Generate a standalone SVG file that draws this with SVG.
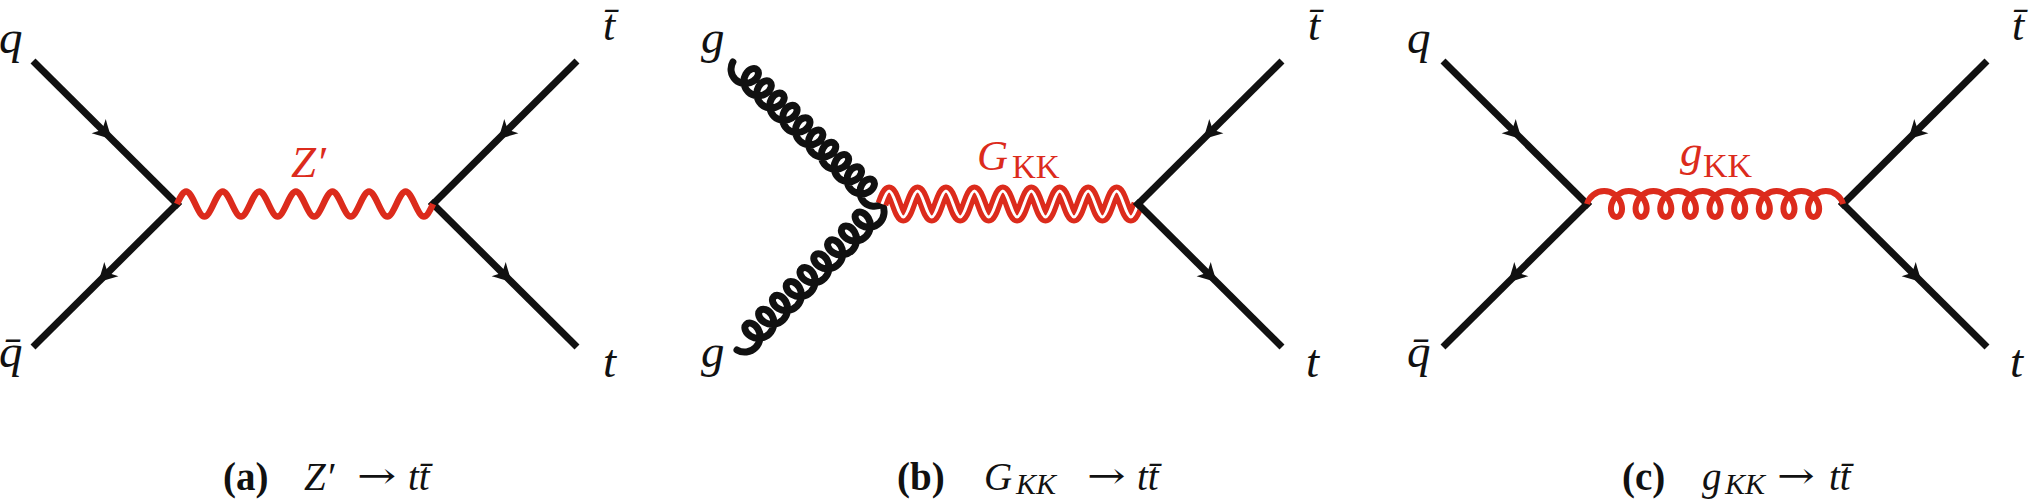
<svg xmlns="http://www.w3.org/2000/svg" width="2031" height="499" viewBox="0 0 2031 499">
<style>
.f{fill:none;stroke:#111;stroke-width:7;stroke-linecap:butt}
.ph{fill:none;stroke:#dc2b1c;stroke-width:6.5;stroke-linecap:butt}
.gl{fill:none;stroke:#111;stroke-width:7;stroke-linecap:round;stroke-linejoin:round}
.glr{fill:none;stroke:#dc2b1c;stroke-width:6;stroke-linecap:butt}
.gvo{fill:none;stroke:#dc2b1c;stroke-width:13}
.gvi{fill:none;stroke:#fff;stroke-width:3}
.arr{fill:#111}
.lb{font-family:"Liberation Serif","Times New Roman",serif;font-style:italic;font-size:47px;fill:#111}
.tb{font-size:44px}
.rd{fill:#dc2b1c}
.rm{font-style:normal}
.cap{font-family:"Liberation Serif","Times New Roman",serif;font-size:39px;fill:#111}
.ar{font-family:"DejaVu Serif",serif;font-size:36px;fill:#111}
.b{font-weight:bold}
.it{font-style:italic}
</style>
<defs>
<path id="arrow" d="M0,0 C-5,-3 -12,-6.5 -18,-10 L-13,0 L-18,10 C-12,6.5 -5,3 0,0 Z"/>
</defs>
<rect width="2031" height="499" fill="#fff"/>
<g id="connectors">
  <!-- panel a -->
  <line class="f" x1="33" y1="61" x2="179.5" y2="206.5"/>
  <line class="f" x1="179.5" y1="201.5" x2="33" y2="347"/>
  <line class="f" x1="577" y1="61" x2="430.5" y2="206.5"/>
  <line class="f" x1="430.5" y1="201.5" x2="577" y2="347"/>
  <path class="ph" d="M177,204 c7.76,-16.67 10.52,-16.67 18.29,0 c7.76,16.67 10.52,16.67 18.29,0 c7.76,-16.67 10.52,-16.67 18.29,0 c7.76,16.67 10.52,16.67 18.29,0 c7.76,-16.67 10.52,-16.67 18.29,0 c7.76,16.67 10.52,16.67 18.29,0 c7.76,-16.67 10.52,-16.67 18.29,0 c7.76,16.67 10.52,16.67 18.29,0 c7.76,-16.67 10.52,-16.67 18.29,0 c7.76,16.67 10.52,16.67 18.29,0 c7.76,-16.67 10.52,-16.67 18.29,0 c7.76,16.67 10.52,16.67 18.29,0 c7.76,-16.67 10.52,-16.67 18.29,0 c7.76,16.67 10.52,16.67 18.29,0"/>
  <use href="#arrow" class="arr" transform="translate(111.4,138.9) rotate(45)"/>
  <use href="#arrow" class="arr" transform="translate(98.6,281.9) rotate(135)"/>
  <use href="#arrow" class="arr" transform="translate(498.6,138.9) rotate(135)"/>
  <use href="#arrow" class="arr" transform="translate(511.4,281.9) rotate(45)"/>
  <!-- panel b -->
  <path class="gl" transform="translate(882,204) rotate(223.6)" d="M0,0 c1.48,-6.08 7.22,-11 13.95,-11 c6.73,0 12.47,4.93 13.95,11 c1.48,6.08 -1.29,11 -5.05,11 c-3.76,0 -6.53,-4.93 -5.05,-11 c1.48,-6.08 7.22,-11 13.95,-11 c6.73,0 12.47,4.93 13.95,11 c1.48,6.08 -1.29,11 -5.05,11 c-3.76,0 -6.53,-4.93 -5.05,-11 c1.48,-6.08 7.22,-11 13.95,-11 c6.73,0 12.47,4.93 13.95,11 c1.48,6.08 -1.29,11 -5.05,11 c-3.76,0 -6.53,-4.93 -5.05,-11 c1.48,-6.08 7.22,-11 13.95,-11 c6.73,0 12.47,4.93 13.95,11 c1.48,6.08 -1.29,11 -5.05,11 c-3.76,0 -6.53,-4.93 -5.05,-11 c1.48,-6.08 7.22,-11 13.95,-11 c6.73,0 12.47,4.93 13.95,11 c1.48,6.08 -1.29,11 -5.05,11 c-3.76,0 -6.53,-4.93 -5.05,-11 c1.48,-6.08 7.22,-11 13.95,-11 c6.73,0 12.47,4.93 13.95,11 c1.48,6.08 -1.29,11 -5.05,11 c-3.76,0 -6.53,-4.93 -5.05,-11 c1.48,-6.08 7.22,-11 13.95,-11 c6.73,0 12.47,4.93 13.95,11 c1.48,6.08 -1.29,11 -5.05,11 c-3.76,0 -6.53,-4.93 -5.05,-11 c1.48,-6.08 7.22,-11 13.95,-11 c6.73,0 12.47,4.93 13.95,11 c1.48,6.08 -1.29,11 -5.05,11 c-3.76,0 -6.53,-4.93 -5.05,-11 c1.48,-6.08 7.22,-11 13.95,-11 c6.73,0 12.47,4.93 13.95,11 c1.48,6.08 -1.29,11 -5.05,11 c-3.76,0 -6.53,-4.93 -5.05,-11 c1.48,-6.08 7.22,-11 13.95,-11 c6.73,0 12.47,4.93 13.95,11 c1.48,6.08 -1.29,11 -5.05,11 c-3.76,0 -6.53,-4.93 -5.05,-11 c1.48,-6.08 7.22,-11 13.95,-11 c6.73,0 12.47,4.93 13.95,11"/>
  <path class="gl" transform="translate(882,204) rotate(134.8)" d="M0,0 c1.63,-6.35 7.74,-11.5 14.89,-11.5 c7.15,0 13.26,5.15 14.89,11.5 c1.63,6.35 -1.22,11.5 -5.11,11.5 c-3.89,0 -6.74,-5.15 -5.11,-11.5 c1.63,-6.35 7.74,-11.5 14.89,-11.5 c7.15,0 13.26,5.15 14.89,11.5 c1.63,6.35 -1.22,11.5 -5.11,11.5 c-3.89,0 -6.74,-5.15 -5.11,-11.5 c1.63,-6.35 7.74,-11.5 14.89,-11.5 c7.15,0 13.26,5.15 14.89,11.5 c1.63,6.35 -1.22,11.5 -5.11,11.5 c-3.89,0 -6.74,-5.15 -5.11,-11.5 c1.63,-6.35 7.74,-11.5 14.89,-11.5 c7.15,0 13.26,5.15 14.89,11.5 c1.63,6.35 -1.22,11.5 -5.11,11.5 c-3.89,0 -6.74,-5.15 -5.11,-11.5 c1.63,-6.35 7.74,-11.5 14.89,-11.5 c7.15,0 13.26,5.15 14.89,11.5 c1.63,6.35 -1.22,11.5 -5.11,11.5 c-3.89,0 -6.74,-5.15 -5.11,-11.5 c1.63,-6.35 7.74,-11.5 14.89,-11.5 c7.15,0 13.26,5.15 14.89,11.5 c1.63,6.35 -1.22,11.5 -5.11,11.5 c-3.89,0 -6.74,-5.15 -5.11,-11.5 c1.63,-6.35 7.74,-11.5 14.89,-11.5 c7.15,0 13.26,5.15 14.89,11.5 c1.63,6.35 -1.22,11.5 -5.11,11.5 c-3.89,0 -6.74,-5.15 -5.11,-11.5 c1.63,-6.35 7.74,-11.5 14.89,-11.5 c7.15,0 13.26,5.15 14.89,11.5 c1.63,6.35 -1.22,11.5 -5.11,11.5 c-3.89,0 -6.74,-5.15 -5.11,-11.5 c1.63,-6.35 7.74,-11.5 14.89,-11.5 c7.15,0 13.26,5.15 14.89,11.5 c1.63,6.35 -1.22,11.5 -5.11,11.5 c-3.89,0 -6.74,-5.15 -5.11,-11.5 c1.63,-6.35 7.74,-11.5 14.89,-11.5 c7.15,0 13.26,5.15 14.89,11.5"/>
  <path class="gvo" d="M882,204 c6.04,-17.33 8.18,-17.33 14.22,0 c6.04,17.33 8.18,17.33 14.22,0 c6.04,-17.33 8.18,-17.33 14.22,0 c6.04,17.33 8.18,17.33 14.22,0 c6.04,-17.33 8.18,-17.33 14.22,0 c6.04,17.33 8.18,17.33 14.22,0 c6.04,-17.33 8.18,-17.33 14.22,0 c6.04,17.33 8.18,17.33 14.22,0 c6.04,-17.33 8.18,-17.33 14.22,0 c6.04,17.33 8.18,17.33 14.22,0 c6.04,-17.33 8.18,-17.33 14.22,0 c6.04,17.33 8.18,17.33 14.22,0 c6.04,-17.33 8.18,-17.33 14.22,0 c6.04,17.33 8.18,17.33 14.22,0 c6.04,-17.33 8.18,-17.33 14.22,0 c6.04,17.33 8.18,17.33 14.22,0 c6.04,-17.33 8.18,-17.33 14.22,0 c6.04,17.33 8.18,17.33 14.22,0"/>
  <path class="gvi" d="M882,204 c6.04,-17.33 8.18,-17.33 14.22,0 c6.04,17.33 8.18,17.33 14.22,0 c6.04,-17.33 8.18,-17.33 14.22,0 c6.04,17.33 8.18,17.33 14.22,0 c6.04,-17.33 8.18,-17.33 14.22,0 c6.04,17.33 8.18,17.33 14.22,0 c6.04,-17.33 8.18,-17.33 14.22,0 c6.04,17.33 8.18,17.33 14.22,0 c6.04,-17.33 8.18,-17.33 14.22,0 c6.04,17.33 8.18,17.33 14.22,0 c6.04,-17.33 8.18,-17.33 14.22,0 c6.04,17.33 8.18,17.33 14.22,0 c6.04,-17.33 8.18,-17.33 14.22,0 c6.04,17.33 8.18,17.33 14.22,0 c6.04,-17.33 8.18,-17.33 14.22,0 c6.04,17.33 8.18,17.33 14.22,0 c6.04,-17.33 8.18,-17.33 14.22,0 c6.04,17.33 8.18,17.33 14.22,0"/>
  <line class="f" x1="1282" y1="61" x2="1135.5" y2="206.5"/>
  <line class="f" x1="1135.5" y1="201.5" x2="1282" y2="347"/>
  <use href="#arrow" class="arr" transform="translate(1203.6,138.9) rotate(135)"/>
  <use href="#arrow" class="arr" transform="translate(1216.4,281.9) rotate(45)"/>
  <!-- panel c -->
  <line class="f" x1="1443" y1="61" x2="1589.5" y2="206.5"/>
  <line class="f" x1="1589.5" y1="201.5" x2="1443" y2="347"/>
  <line class="f" x1="1987" y1="61" x2="1840.5" y2="206.5"/>
  <line class="f" x1="1840.5" y1="201.5" x2="1987" y2="347"/>
  <path class="glr" d="M1587,204 c2.05,-7.18 9.03,-13 17.16,-13 c8.13,0 15.11,5.82 17.16,13 c2.05,7.18 -0.82,13 -4.84,13 c-4.02,0 -6.9,-5.82 -4.84,-13 c2.05,-7.18 9.03,-13 17.16,-13 c8.13,0 15.11,5.82 17.16,13 c2.05,7.18 -0.82,13 -4.84,13 c-4.02,0 -6.9,-5.82 -4.84,-13 c2.05,-7.18 9.03,-13 17.16,-13 c8.13,0 15.11,5.82 17.16,13 c2.05,7.18 -0.82,13 -4.84,13 c-4.02,0 -6.9,-5.82 -4.84,-13 c2.05,-7.18 9.03,-13 17.16,-13 c8.13,0 15.11,5.82 17.16,13 c2.05,7.18 -0.82,13 -4.84,13 c-4.02,0 -6.9,-5.82 -4.84,-13 c2.05,-7.18 9.03,-13 17.16,-13 c8.13,0 15.11,5.82 17.16,13 c2.05,7.18 -0.82,13 -4.84,13 c-4.02,0 -6.9,-5.82 -4.84,-13 c2.05,-7.18 9.03,-13 17.16,-13 c8.13,0 15.11,5.82 17.16,13 c2.05,7.18 -0.82,13 -4.84,13 c-4.02,0 -6.9,-5.82 -4.84,-13 c2.05,-7.18 9.03,-13 17.16,-13 c8.13,0 15.11,5.82 17.16,13 c2.05,7.18 -0.82,13 -4.84,13 c-4.02,0 -6.9,-5.82 -4.84,-13 c2.05,-7.18 9.03,-13 17.16,-13 c8.13,0 15.11,5.82 17.16,13 c2.05,7.18 -0.82,13 -4.84,13 c-4.02,0 -6.9,-5.82 -4.84,-13 c2.05,-7.18 9.03,-13 17.16,-13 c8.13,0 15.11,5.82 17.16,13 c2.05,7.18 -0.82,13 -4.84,13 c-4.02,0 -6.9,-5.82 -4.84,-13 c2.05,-7.18 9.03,-13 17.16,-13 c8.13,0 15.11,5.82 17.16,13"/>
  <use href="#arrow" class="arr" transform="translate(1521.4,138.9) rotate(45)"/>
  <use href="#arrow" class="arr" transform="translate(1508.6,281.9) rotate(135)"/>
  <use href="#arrow" class="arr" transform="translate(1908.6,138.9) rotate(135)"/>
  <use href="#arrow" class="arr" transform="translate(1921.4,281.9) rotate(45)"/>
</g>
<g id="a-q"><text class="lb" x="-1" y="53">q</text></g>
<g id="a-qbar"><text class="lb" x="-1" y="367">q̄</text></g>
<g id="a-tbar"><text class="lb tb" x="603" y="40">t̄</text></g>
<g id="a-t"><text class="lb" x="603" y="377">t</text></g>
<g id="a-zprime"><text class="lb rd" x="291" y="177" style="font-size:45px">Z′</text></g>
<g id="b-g1"><text class="lb" x="701" y="53">g</text></g>
<g id="b-g2"><text class="lb" x="701" y="367">g</text></g>
<g id="b-tbar"><text class="lb tb" x="1308" y="40">t̄</text></g>
<g id="b-t"><text class="lb" x="1306" y="377">t</text></g>
<g id="b-gkk"><text class="lb rd" x="977" y="170" style="font-size:43px">G</text><text class="lb rd rm" x="1012" y="178" style="font-size:33px">KK</text></g>
<g id="c-q"><text class="lb" x="1407" y="53">q</text></g>
<g id="c-qbar"><text class="lb" x="1407" y="367">q̄</text></g>
<g id="c-tbar"><text class="lb tb" x="2012" y="40">t̄</text></g>
<g id="c-t"><text class="lb" x="2010" y="377">t</text></g>
<g id="c-gkk"><text class="lb rd" x="1680" y="166" style="font-size:45px">g</text><text class="lb rd rm" x="1703" y="177" style="font-size:34px">KK</text></g>
<g id="caption-a">
  <text class="cap b" x="223" y="490">(a)</text>
  <text class="cap it" x="304" y="490">Z′</text>
  <text class="ar" transform="translate(357,488) scale(1.3,1)">→</text>
  <text class="cap it" x="408" y="490">tt̄</text>
</g>
<g id="caption-b">
  <text class="cap b" x="897" y="490">(b)</text>
  <text class="cap it" x="984" y="490">G</text>
  <text class="cap it" x="1016" y="494" style="font-size:30px">KK</text>
  <text class="ar" transform="translate(1087,488) scale(1.28,1)">→</text>
  <text class="cap it" x="1137" y="490">tt̄</text>
</g>
<g id="caption-c">
  <text class="cap b" x="1622" y="490">(c)</text>
  <text class="cap it" x="1702" y="490">g</text>
  <text class="cap it" x="1725" y="494" style="font-size:30px">KK</text>
  <text class="ar" transform="translate(1777,488) scale(1.25,1)">→</text>
  <text class="cap it" x="1829" y="490">tt̄</text>
</g>
</svg>
